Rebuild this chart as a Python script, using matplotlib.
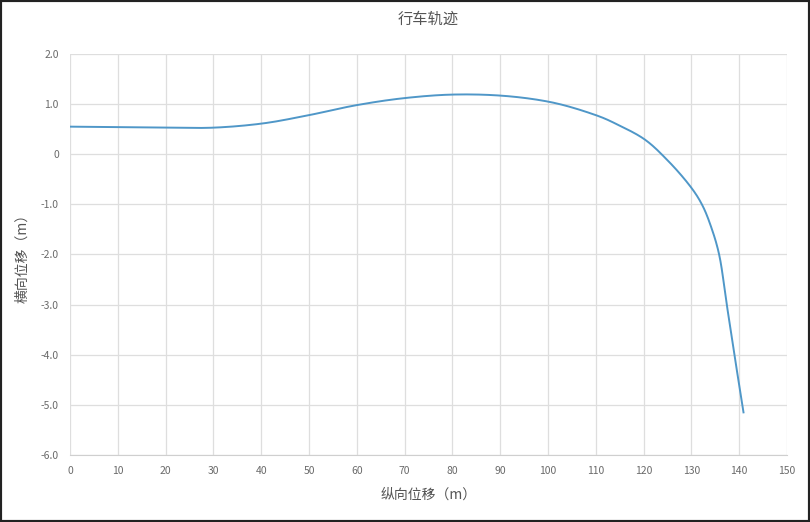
import numpy as np
import matplotlib
matplotlib.use("Agg")
import matplotlib.pyplot as plt
from matplotlib.patches import Rectangle

plt.rcParams['font.family'] = ['Noto Sans CJK SC', 'DejaVu Sans']

# 纵向位移 (m) / 横向位移 (m)
x_pos = [0, 10, 20, 30, 40, 50, 60, 70, 80, 90, 100, 110, 115, 120, 125,
         130, 132.3, 134.2, 135.8, 137.4, 139.0, 140.9]
y_pos = [0.55, 0.54, 0.53, 0.53, 0.61, 0.78, 0.98, 1.12, 1.19, 1.17, 1.05,
         0.78, 0.57, 0.31, -0.12, -0.67, -1.02, -1.47, -2.0, -3.0,
         -4.0, -5.15]

x_ticks = list(range(0, 151, 10))
y_ticks = [2, 1, 0, -1, -2, -3, -4, -5, -6]
y_ticklabels = ['2.0', '1.0', '0', '-1.0', '-2.0', '-3.0', '-4.0', '-5.0', '-6.0']


def catmull(p, n=20):
    # centripetal catmull-rom, keeps the curve smooth with uneven spacing
    out = []
    p = np.vstack([2 * p[0] - p[1], p, 2 * p[-1] - p[-2]])
    for i in range(1, len(p) - 2):
        p0, p1, p2, p3 = p[i - 1], p[i], p[i + 1], p[i + 2]
        t0 = 0.0
        t1 = t0 + np.linalg.norm(p1 - p0) ** 0.5
        t2 = t1 + np.linalg.norm(p2 - p1) ** 0.5
        t3 = t2 + np.linalg.norm(p3 - p2) ** 0.5
        for t in np.linspace(t1, t2, n, endpoint=False):
            a1 = (t1 - t) / (t1 - t0) * p0 + (t - t0) / (t1 - t0) * p1
            a2 = (t2 - t) / (t2 - t1) * p1 + (t - t1) / (t2 - t1) * p2
            a3 = (t3 - t) / (t3 - t2) * p2 + (t - t2) / (t3 - t2) * p3
            b1 = (t2 - t) / (t2 - t0) * a1 + (t - t0) / (t2 - t0) * a2
            b2 = (t3 - t) / (t3 - t1) * a2 + (t - t1) / (t3 - t1) * a3
            out.append((t2 - t) / (t2 - t1) * b1 + (t - t1) / (t2 - t1) * b2)
    out.append(p[-2])
    return np.array(out)


fig = plt.figure(figsize=(8.1, 5.22), dpi=100)
ax = fig.add_axes([0.0864, 0.1284, 0.8852, 0.7682])

# scale y so both axes weigh similarly in the spline parametrisation
pts = np.column_stack([np.array(x_pos) / 4.78, np.array(y_pos) * 10.5])
curve = catmull(pts)
ax.plot(curve[:, 0] * 4.78, curve[:, 1] / 10.5, color='#4f97c8', lw=1.4)

ax.set_xlim(0, 150)
ax.set_ylim(-6, 2)
ax.set_xticks(x_ticks)
ax.set_yticks(y_ticks)
ax.set_yticklabels(y_ticklabels)
ax.grid(True, color='#dedede', lw=0.9)
ax.set_axisbelow(True)
for s in ['top', 'right', 'left']:
    ax.spines[s].set_visible(False)
ax.spines['bottom'].set_color('#cfcfcf')
ax.tick_params(length=0, labelsize=7.5, colors='#6a6a6a', pad=8)

ax.set_title('行车轨迹', fontsize=11, color='#555555', pad=22)
ax.set_xlabel('纵向位移（m）', fontsize=10, color='#555555', labelpad=8)
ax.set_ylabel('横向位移（m）', fontsize=10, color='#555555', labelpad=8)

fig.patches.append(Rectangle((0, 0), 1, 1, transform=fig.transFigure,
                             fill=False, edgecolor='#222222', lw=3))

fig.savefig('out.png', dpi=100)
